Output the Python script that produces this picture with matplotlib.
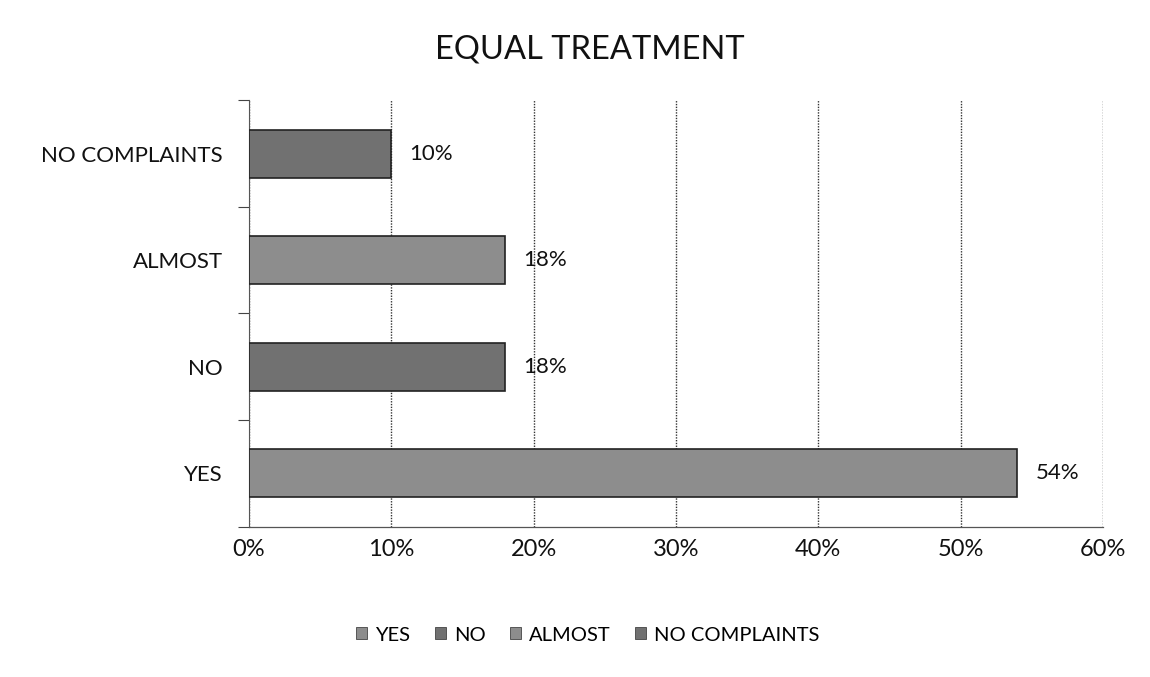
import matplotlib
matplotlib.use("Agg")
import matplotlib.pyplot as plt
from matplotlib.patches import Patch
from matplotlib.ticker import FixedLocator

categories = ["YES", "NO", "ALMOST", "NO COMPLAINTS"]
values = [54, 18, 18, 10]
labels = ["54%", "18%", "18%", "10%"]
colors = ["#8d8d8d", "#717171", "#8d8d8d", "#717171"]
xticks = [0, 10, 20, 30, 40, 50, 60]
xticklabels = ["0%", "10%", "20%", "30%", "40%", "50%", "60%"]

plt.rcParams['font.family'] = ['Lato', 'DejaVu Sans']

fig = plt.figure(figsize=(11.5, 6.77), dpi=100)
ax = fig.add_axes([0.2165, 0.222, 0.7425, 0.63])

y = list(range(len(categories)))
ax.barh(y, values, height=0.45, color=colors, edgecolor="#222222", linewidth=1.2, zorder=3)

for yi, v, lab in zip(y, values, labels):
    ax.annotate(lab, xy=(v, yi), xytext=(13, 0), textcoords="offset points",
                va="center", ha="left", fontsize=16, color="#111111")

ax.set_xlim(0, 60)
ax.set_ylim(-0.5, len(categories) - 0.5)
ax.set_xticks(xticks)
ax.set_xticklabels(xticklabels, fontsize=17, color="#111111")
ax.set_yticks(y)
ax.set_yticklabels(categories, fontsize=16, color="#111111")
ax.tick_params(axis="y", which="major", length=0, pad=19)
ax.tick_params(axis="x", which="major", length=0, pad=9)
ax.yaxis.set_minor_locator(FixedLocator([-0.5, 0.5, 1.5, 2.5, 3.5]))
ax.tick_params(axis="y", which="minor", length=8, width=0.8, color="#444444", direction="out")

ax.grid(axis="x", linestyle=(0, (1, 1)), color="#333333", linewidth=1.0, zorder=0)
for s in ["top", "right"]:
    ax.spines[s].set_visible(False)
ax.spines["left"].set_color("#555555")
ax.spines["left"].set_linewidth(0.8)
ax.spines["bottom"].set_color("#555555")
ax.spines["bottom"].set_linewidth(0.9)

fig.text(0.513, 0.927, "EQUAL TREATMENT", ha="center", va="center", fontsize=23.5, color="#111111")

handles = [Patch(facecolor=c, edgecolor="#444444", linewidth=0.6) for c in colors]
fig.legend(handles, categories, loc="center", bbox_to_anchor=(0.511, 0.062), ncol=4,
           frameon=False, fontsize=14.5, handlelength=0.55, handleheight=0.55,
           handletextpad=0.4, columnspacing=1.2)

fig.savefig("out.png", dpi=100, facecolor="white")
